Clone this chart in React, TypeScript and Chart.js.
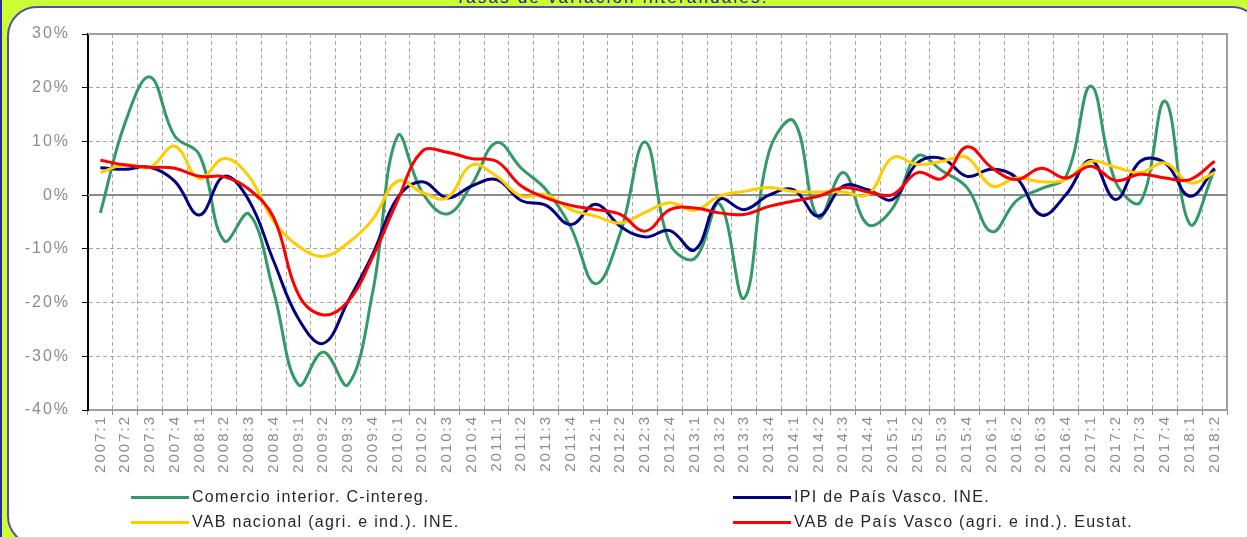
import React, { useEffect, useRef } from "react";
import { Chart, registerables } from "chart.js";

Chart.register(...registerables);

const categories = [
  "2007:1", "2007:2", "2007:3", "2007:4",
  "2008:1", "2008:2", "2008:3", "2008:4",
  "2009:1", "2009:2", "2009:3", "2009:4",
  "2010:1", "2010:2", "2010:3", "2010:4",
  "2011:1", "2011:2", "2011:3", "2011:4",
  "2012:1", "2012:2", "2012:3", "2012:4",
  "2013:1", "2013:2", "2013:3", "2013:4",
  "2014:1", "2014:2", "2014:3", "2014:4",
  "2015:1", "2015:2", "2015:3", "2015:4",
  "2016:1", "2016:2", "2016:3", "2016:4",
  "2017:1", "2017:2", "2017:3", "2017:4",
  "2018:1", "2018:2",
];

const comercioInterior = [
  -3.3, 13.5, 22, 11,
  7.5, -8.5, -3.5, -18,
  -35.3, -29.2, -35.3, -18,
  11, 0.5, -3.5, 2,
  9.8, 5, 1, -6,
  -16.5, -7, 9.9, -9,
  -11.8, -1.6, -19.2, 8,
  13.8, -4.2, 4.2, -5.5,
  -2.4, 7.3, 4.5, 1.4,
  -6.8, -1, 1.2, 3.5,
  20.3, 2.5, -1.3, 17.5,
  -5.4, 4.8,
];

const ipiPaisVasco = [
  5.1, 4.8, 5.2, 2.6,
  -3.7, 3.5, -1, -12.3,
  -23, -27.6, -19.8, -11,
  -0.5, 2.5, -0.5, 1.7,
  2.9, -1, -1.9, -5.5,
  -1.7, -5.8, -7.8, -6.6,
  -10.2, -0.8, -2.7, 0,
  1, -3.9, 1.7, 1,
  -0.8, 6, 6.8, 3.5,
  4.8, 3.2, -3.7, 0.1,
  6.5, -0.8, 6.3, 6,
  -0.2, 5,
];

const vabNacional = [
  4.2, 5.7, 5.2, 9.1,
  3.1, 6.8, 3.5, -4.9,
  -9.5, -11.4, -8.9, -4.5,
  2.6, 0.5, -0.5, 5.6,
  3.5, -0.2, 0.1, -2.7,
  -3.9, -5.2, -3.2, -1.4,
  -2.8, -0.2, 0.7, 1.4,
  0.7, 0.6, 0.6, 0.1,
  7, 5.7, 6.3, 7,
  1.7, 3.2, 2.5, 2.9,
  6.3, 5.2, 4.2, 6,
  2.3, 4.2,
];

const vabPaisVasco = [
  6.5, 5.6, 5.2, 5,
  3.5, 3.4, 1.1, -4.2,
  -18.5, -22.3, -19.8, -11.5,
  -1, 8.2, 8, 6.8,
  6.3, 1.7, -0.5, -1.9,
  -2.7, -3.6, -6.7, -2.7,
  -2.4, -3.3, -3.6, -2.1,
  -1.1, -0.2, 1.4, 0.6,
  0.1, 4.2, 3.1, 9,
  5.1, 2.9, 5, 3.2,
  5.4, 2.7, 3.9, 3.2,
  2.9, 6.3,
];

const seriesNames = [
  "Comercio interior. C-intereg.",
  "IPI de País Vasco. INE.",
  "VAB nacional (agri. e ind.). INE.",
  "VAB de País Vasco (agri. e ind.). Eustat.",
];
const seriesColors = ["#339966", "#000080", "#FFCC00", "#FF0000"];

const yMin = -40;
const yMax = 30;
const yStep = 10;

const titleText = "Tasas de variación interanuales.";

const W = 1247;
const H = 537;
const FONT = "'Liberation Sans', Arial, sans-serif";

const spacingPlugin = {
  id: "spacing",
  beforeDraw(chart: any) {
    chart.ctx.letterSpacing = "2px";
  },
  afterDraw(chart: any) {
    chart.ctx.letterSpacing = "0px";
  },
};

const framePlugin = {
  id: "frame",
  beforeDatasetsDraw(chart: any) {
    const { ctx, chartArea } = chart;
    const y = chart.scales.y;
    ctx.save();
    ctx.setLineDash([]);
    ctx.lineWidth = 2;
    ctx.strokeStyle = "#a0a0a0";
    ctx.beginPath();
    ctx.moveTo(chartArea.left, chartArea.top);
    ctx.lineTo(chartArea.right, chartArea.top);
    ctx.lineTo(chartArea.right, chartArea.bottom);
    ctx.stroke();
    const zy = Math.round(y.getPixelForValue(0));
    ctx.strokeStyle = "#8a8a8a";
    ctx.beginPath();
    ctx.moveTo(chartArea.left, zy);
    ctx.lineTo(chartArea.right, zy);
    ctx.stroke();
    ctx.restore();
  },
};

export default function App() {
  const ref = useRef<HTMLCanvasElement | null>(null);

  useEffect(() => {
    if (!ref.current) return;
    const lists = [comercioInterior, ipiPaisVasco, vabNacional, vabPaisVasco];
    const chart = new Chart(ref.current, {
      type: "line",
      data: {
        labels: categories,
        datasets: lists.map((d, i) => ({
          label: seriesNames[i],
          data: d,
          borderColor: seriesColors[i],
          backgroundColor: seriesColors[i],
          borderWidth: 3,
          pointRadius: 0,
          pointHoverRadius: 0,
          tension: 0.4,
          fill: false,
          order: 4 - i,
        })),
      },
      options: {
        responsive: false,
        animation: false,
        events: [],
        layout: { padding: { left: 0, top: 34, right: 20, bottom: 0 } },
        plugins: {
          legend: { display: false },
          tooltip: { enabled: false },
          title: { display: false },
        },
        scales: {
          x: {
            offset: true,
            grid: {
              offset: true,
              color: (c: any) =>
                c.index > 0 && c.index < categories.length ? "#a8a8a8" : "rgba(0,0,0,0)",
              lineWidth: 1,
              tickColor: "#909090",
              tickLength: 5,
              drawTicks: true,
            },
            border: { display: true, color: "#a0a0a0", width: 2, dash: [4, 3] },
            ticks: {
              autoSkip: false,
              maxRotation: 90,
              minRotation: 90,
              padding: 0,
              color: "#8c8c8c",
              font: { family: FONT, size: 15 },
            },
            afterFit: (s: any) => {
              s.height = H - 410;
            },
          },
          y: {
            min: yMin,
            max: yMax,
            grid: {
              color: (c: any) =>
                c.tick && c.tick.value !== 0 && c.tick.value !== yMax && c.tick.value !== yMin
                  ? "#a8a8a8"
                  : "rgba(0,0,0,0)",
              lineWidth: 1,
              tickColor: "#000000",
              tickLength: 6,
            },
            border: { display: true, color: "#000000", width: 2, dash: [4, 3] },
            ticks: {
              stepSize: yStep,
              padding: 12,
              color: "#8c8c8c",
              font: { family: FONT, size: 16 },
              callback: (v: any) => `${v}%`,
            },
            afterFit: (s: any) => {
              s.width = 88;
            },
          },
        },
      },
      plugins: [spacingPlugin, framePlugin],
    });
    return () => chart.destroy();
  }, []);

  const legendItem = (i: number, left: number, top: number) => (
    <div
      key={i}
      style={{
        position: "absolute",
        left,
        top,
        height: 20,
        display: "flex",
        alignItems: "center",
        whiteSpace: "nowrap",
      }}
    >
      <div style={{ width: 58, height: 3, background: seriesColors[i], marginRight: 3 }} />
      <span
        style={{
          fontFamily: FONT,
          fontSize: 16,
          letterSpacing: "1.3px",
          color: "#262626",
          lineHeight: "20px",
        }}
      >
        {seriesNames[i]}
      </span>
    </div>
  );

  return (
    <div
      style={{
        position: "fixed",
        left: 0,
        top: 0,
        width: W,
        height: H,
        overflow: "hidden",
        background: "#CCFF33",
        borderLeft: "2px solid #2a2aa0",
        boxSizing: "border-box",
      }}
    >
      <div
        style={{
          position: "absolute",
          left: 0,
          width: 1220,
          top: -12,
          textAlign: "center",
          fontFamily: FONT,
          fontSize: 17,
          lineHeight: "19px",
          letterSpacing: "2.2px",
          color: "#1c1c8c",
        }}
      >
        {titleText}
      </div>
      <div
        style={{
          position: "absolute",
          left: 5,
          top: 6,
          width: 1255,
          height: 540,
          background: "#ffffff",
          border: "2px solid #5050a8",
          borderRadius: 30,
          boxSizing: "border-box",
        }}
      />
      <canvas
        ref={ref}
        width={W}
        height={H}
        style={{ position: "absolute", left: -2, top: 0, width: W, height: H, display: "block" }}
      />
      {legendItem(0, 129, 487)}
      {legendItem(1, 731, 487)}
      {legendItem(2, 129, 512)}
      {legendItem(3, 731, 512)}
    </div>
  );
}
